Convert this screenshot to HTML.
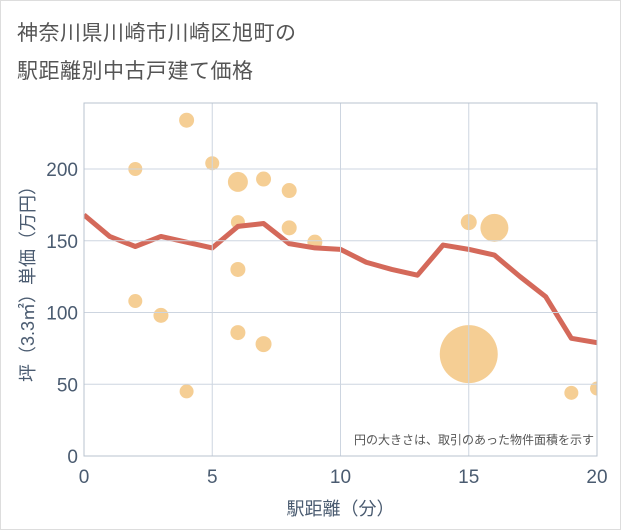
<!DOCTYPE html>
<html><head><meta charset="utf-8"><style>
body{margin:0;background:#fff;font-family:"Liberation Sans","Noto Sans CJK JP",sans-serif}
#wrap{position:relative;width:619px;height:528px;border:1px solid #ddd;overflow:hidden}
.t{position:absolute;left:16px;font-size:21px;color:#555;letter-spacing:0.5px}
</style></head><body>
<div id="wrap">
<div class="t" style="top:16px">神奈川県川崎市川崎区旭町の</div>
<div class="t" style="top:54px">駅距離別中古戸建て価格</div>
<svg id="chart" width="621" height="530" style="position:absolute;left:-1px;top:-1px">
<defs><clipPath id="pc"><rect x="84" y="103" width="513" height="353"/></clipPath></defs>
<g id="marks" clip-path="url(#pc)"></g>
</svg>
</div>
<script>
const lineX=[0,1,2,3,4,5,6,7,8,9,10,11,12,13,14,15,16,17,18,19,20];
const lineY=[168,153,146,153,149,145,160,162,148,145,144,135,130,126,147,144,140,125,111,82,79];
const ptX=[2,4,5,6,7,8,6,8,9,6,2,3,6,7,4,15,16,15,19,20];
const ptY=[200,234,204,191,193,185,163,159,149,130,108,98,86,78,45,163,159,71,44,47];
const ptR=[7,7.5,7,10,7.5,7.5,7,7.5,7.5,7.5,7,7.5,7.5,8,7,8,14,29,7,7];
const xTicks=[0,5,10,15,20];
const yTicks=[0,50,100,150,200];
const L=84,R=597,T=103,B=456;
const sx=v=>L+(R-L)*v/20, sy=v=>B-(B-169)*v/200;
const svg=document.getElementById('chart');const marks=document.getElementById('marks');const NS='http://www.w3.org/2000/svg';
function mk(t,a,p){const e=document.createElementNS(NS,t);for(const k in a)e.setAttribute(k,a[k]);(p||svg).appendChild(e);return e;}
xTicks.forEach(v=>{const g=mk('line',{x1:sx(v),x2:sx(v),y1:T,y2:B,stroke:'#cdd5e0'});


const t=mk('text',{x:sx(v),y:B+27,'text-anchor':'middle','font-size':19,fill:'#4a5b70'});t.textContent=v;

});
yTicks.forEach(v=>{const g=mk('line',{x1:L,x2:R,y1:sy(v),y2:sy(v),stroke:'#cdd5e0'});


const t=mk('text',{x:L-6,y:sy(v)+7,'text-anchor':'end','font-size':19,fill:'#4a5b70'});t.textContent=v;

});
const frame=mk('rect',{x:L,y:T,width:R-L,height:B-T,fill:'none',stroke:'#b9c3cf','stroke-width':1});


ptX.forEach((x,i)=>{const c=mk('ellipse',{cx:sx(x),cy:sy(ptY[i]),rx:ptR[i],ry:ptR[i],fill:'#f3c581','fill-opacity':0.85},marks);

});
const pl=mk('polyline',{points:lineX.map((x,i)=>sx(x)+','+sy(lineY[i])).join(' '),fill:'none',stroke:'#d4695a','stroke-width':5,'stroke-linejoin':'round'},marks);


const note=mk('text',{x:R-3,y:444,'text-anchor':'end','font-size':12,fill:'#555'});note.textContent='円の大きさは、取引のあった物件面積を示す';


const xt=mk('text',{x:sx(10),y:515,'text-anchor':'middle','font-size':18,fill:'#4a5b70'});xt.textContent='駅距離（分）';


const yt=mk('text',{x:0,y:0,'text-anchor':'middle','font-size':18,fill:'#4a5b70',transform:'translate(34,'+(T+B)/2+') rotate(-90)'});yt.textContent='坪（3.3㎡）単価（万円）';


</script>
</body></html>
